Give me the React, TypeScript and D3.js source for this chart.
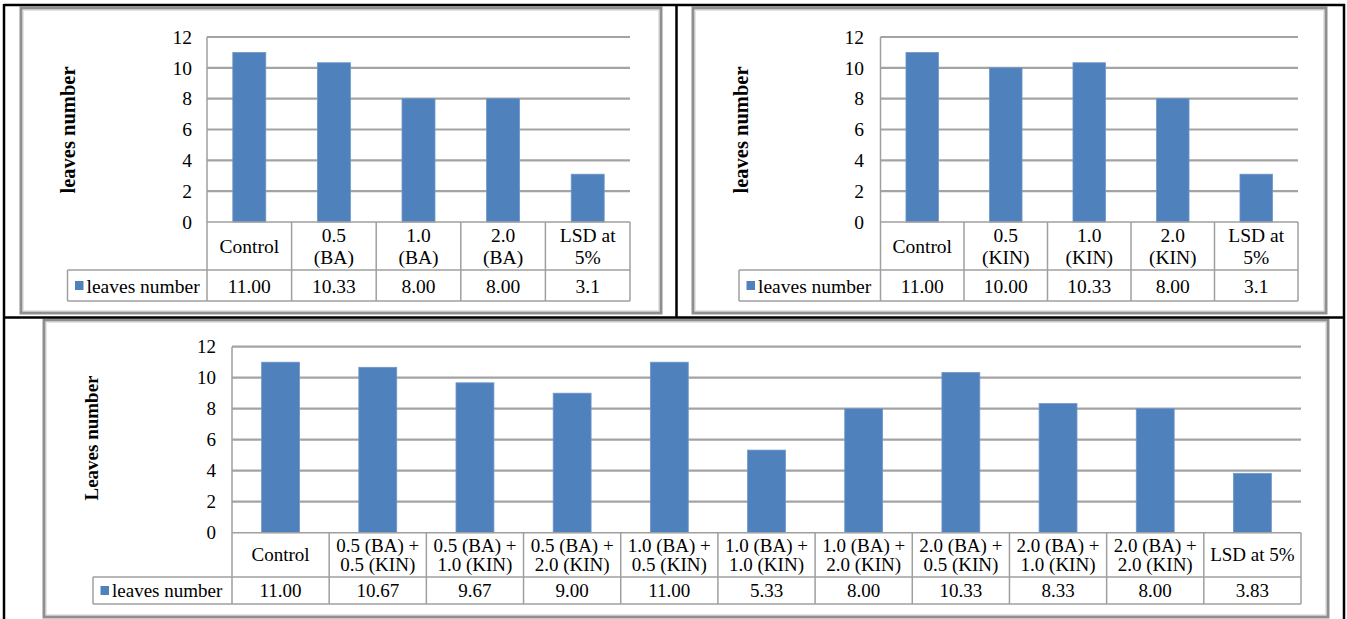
import React from "react";
import * as d3 from "d3";

const yTicks = [0, 2, 4, 6, 8, 10, 12];

const baCategories = [["Control"], ["0.5", "(BA)"], ["1.0", "(BA)"], ["2.0", "(BA)"], ["LSD at", "5%"]];
const baValues = [11.0, 10.33, 8.0, 8.0, 3.1];
const baLabels = ["11.00", "10.33", "8.00", "8.00", "3.1"];

const kinCategories = [["Control"], ["0.5", "(KIN)"], ["1.0", "(KIN)"], ["2.0", "(KIN)"], ["LSD at", "5%"]];
const kinValues = [11.0, 10.0, 10.33, 8.0, 3.1];
const kinLabels = ["11.00", "10.00", "10.33", "8.00", "3.1"];

const mixCategories = [
  ["Control"],
  ["0.5 (BA) +", "0.5 (KIN)"],
  ["0.5 (BA) +", "1.0 (KIN)"],
  ["0.5 (BA) +", "2.0 (KIN)"],
  ["1.0 (BA) +", "0.5 (KIN)"],
  ["1.0 (BA) +", "1.0 (KIN)"],
  ["1.0 (BA) +", "2.0 (KIN)"],
  ["2.0 (BA) +", "0.5 (KIN)"],
  ["2.0 (BA) +", "1.0 (KIN)"],
  ["2.0 (BA) +", "2.0 (KIN)"],
  ["LSD at 5%"],
];
const mixValues = [11.0, 10.67, 9.67, 9.0, 11.0, 5.33, 8.0, 10.33, 8.33, 8.0, 3.83];
const mixLabels = ["11.00", "10.67", "9.67", "9.00", "11.00", "5.33", "8.00", "10.33", "8.33", "8.00", "3.83"];

const seriesName = "leaves number";

const FONT = "'Liberation Serif', 'Times New Roman', serif";
const BAR = "#4f81bd";
const GRID = "#a3a3a3";
const TABLE = "#9f9f9f";

type Layout = {
  panel: { x: number; y: number; w: number; h: number };
  x0: number;
  x1: number;
  yTop: number;
  yBottom: number;
  catBottom: number;
  tableBottom: number;
  legendLeft: number;
  tickRight: number;
  titleX: number;
  titleY: number;
  title: string;
  titleFs: number;
  fs: number;
  lh: number;
  textOffset: number;
};

function Chart({ layout, categories, values, labels }: { layout: Layout; categories: string[][]; values: number[]; labels: string[] }) {
  const L = layout;
  const idx = values.map((_, i) => String(i));
  const col = d3.scaleBand().domain(idx).range([L.x0, L.x1]).padding(0);
  const bar = d3.scaleBand().domain(idx).range([L.x0, L.x1]).paddingInner(0.61).paddingOuter(0.305);
  const y = d3.scaleLinear().domain([0, 12]).range([L.yBottom, L.yTop]);
  const catMid = (L.yBottom + L.catBottom) / 2;
  const valMid = (L.catBottom + L.tableBottom) / 2;
  const bounds = idx.map((d) => col(d) as number).concat([L.x1]);

  return (
    <g>
      <rect x={L.panel.x} y={L.panel.y} width={L.panel.w} height={L.panel.h} fill="#ffffff" stroke="#8f8f8f" strokeWidth={3} />
      <rect x={L.panel.x + 2.5} y={L.panel.y + 2.5} width={L.panel.w - 5} height={L.panel.h - 5} fill="none" stroke="#e4e4e4" strokeWidth={1} />
      {yTicks.filter((t) => t > 0).map((t) => (
        <line key={t} x1={L.x0} x2={L.x1} y1={y(t)} y2={y(t)} stroke={GRID} strokeWidth={2.2} />
      ))}
      {values.map((v, i) => (
        <rect key={i} x={bar(String(i))} y={y(v)} width={bar.bandwidth()} height={y(0) - y(v)} fill={BAR} stroke="#6f97c8" strokeWidth={0.8} />
      ))}
      {yTicks.map((t) => (
        <text key={t} x={L.tickRight} y={y(t)} dy="0.35em" textAnchor="end" fontFamily={FONT} fontSize={L.fs}>
          {t}
        </text>
      ))}
      <text
        transform={`translate(${L.titleX},${L.titleY}) rotate(-90)`}
        textAnchor="middle"
        dy="0.35em"
        fontFamily={FONT}
        fontWeight="bold"
        fontSize={L.titleFs}
      >
        {L.title}
      </text>
      <line x1={L.x0} x2={L.x0} y1={L.yTop} y2={L.tableBottom} stroke={TABLE} strokeWidth={1.5} />
      <line x1={L.x0} x2={L.x1} y1={L.yBottom} y2={L.yBottom} stroke={TABLE} strokeWidth={1.5} />
      <line x1={L.legendLeft} x2={L.x1} y1={L.catBottom} y2={L.catBottom} stroke={TABLE} strokeWidth={1.5} />
      <line x1={L.legendLeft} x2={L.x1} y1={L.tableBottom} y2={L.tableBottom} stroke={TABLE} strokeWidth={1.5} />
      <line x1={L.legendLeft} x2={L.legendLeft} y1={L.catBottom} y2={L.tableBottom} stroke={TABLE} strokeWidth={1.5} />
      {bounds.slice(1).map((b, i) => (
        <line key={i} x1={b} x2={b} y1={L.yBottom} y2={L.tableBottom} stroke={TABLE} strokeWidth={1.5} />
      ))}
      {categories.map((lines, i) => {
        const cx = (col(String(i)) as number) + col.bandwidth() / 2;
        return lines.map((ln, j) => (
          <text
            key={`${i}-${j}`}
            x={cx}
            y={catMid + L.textOffset + (j - (lines.length - 1) / 2) * L.lh}
            textAnchor="middle"
            fontFamily={FONT}
            fontSize={L.fs}
          >
            {ln}
          </text>
        ));
      })}
      {labels.map((lb, i) => (
        <text
          key={i}
          x={(col(String(i)) as number) + col.bandwidth() / 2}
          y={valMid + L.textOffset}
          textAnchor="middle"
          fontFamily={FONT}
          fontSize={L.fs}
        >
          {lb}
        </text>
      ))}
      <rect x={L.legendLeft + 7.5} y={valMid - 4.5} width={8.5} height={9} fill={BAR} />
      <text x={L.legendLeft + 19} y={valMid + L.textOffset} fontFamily={FONT} fontSize={L.fs}>
        {seriesName}
      </text>
    </g>
  );
}

const layoutBA: Layout = {
  panel: { x: 21, y: 8, w: 640, h: 305 },
  x0: 207,
  x1: 630,
  yTop: 37,
  yBottom: 222,
  catBottom: 270,
  tableBottom: 301,
  legendLeft: 67.5,
  tickRight: 192,
  titleX: 68,
  titleY: 130,
  title: "leaves number",
  titleFs: 20.5,
  fs: 19.5,
  lh: 22,
  textOffset: 7,
};

const layoutKIN: Layout = {
  ...layoutBA,
  panel: { x: 693, y: 8, w: 633, h: 305 },
  x0: 880.5,
  x1: 1298,
  legendLeft: 739,
  tickRight: 864,
  titleX: 741,
};

const layoutMix: Layout = {
  panel: { x: 44, y: 320, w: 1284, h: 297 },
  x0: 232,
  x1: 1301,
  yTop: 346.7,
  yBottom: 532.7,
  catBottom: 577,
  tableBottom: 604,
  legendLeft: 93,
  tickRight: 216,
  titleX: 91.5,
  titleY: 438,
  title: "Leaves number",
  titleFs: 19,
  fs: 19,
  lh: 19.5,
  textOffset: 6.5,
};

export default function App() {
  return (
    <svg width={1347} height={619} style={{ position: "absolute", left: 0, top: 0, background: "#ffffff" }}>
      <rect x={0} y={0} width={1347} height={619} fill="#ffffff" />
      <Chart layout={layoutBA} categories={baCategories} values={baValues} labels={baLabels} />
      <Chart layout={layoutKIN} categories={kinCategories} values={kinValues} labels={kinLabels} />
      <Chart layout={layoutMix} categories={mixCategories} values={mixValues} labels={mixLabels} />
      <line x1={4} x2={1345} y1={5} y2={5} stroke="#000" strokeWidth={2.5} />
      <line x1={4} x2={4} y1={4} y2={619} stroke="#000" strokeWidth={2.5} />
      <line x1={1344} x2={1344} y1={4} y2={619} stroke="#000" strokeWidth={2.5} />
      <line x1={4} x2={1345} y1={317.5} y2={317.5} stroke="#000" strokeWidth={2.5} />
      <line x1={676.5} x2={676.5} y1={4} y2={317} stroke="#000" strokeWidth={2.5} />
    </svg>
  );
}
